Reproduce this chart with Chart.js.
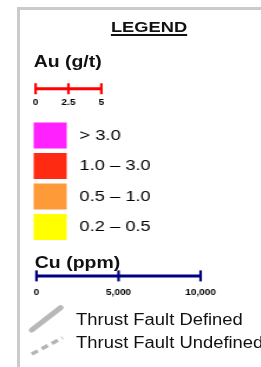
<!DOCTYPE html>
<html lang="en">
<head>
<meta charset="UTF-8">
<title>Legend</title>
<style>
  html, body { margin: 0; padding: 0; background: #fff; }
  body {
    width: 261px; height: 367px; overflow: hidden; position: relative;
    font-family: "Liberation Sans", Arial, sans-serif; color: #111;
  }
  .frame {
    position: absolute; left: 17px; top: 7px; right: -10px; bottom: -10px;
    border-left: 3px solid #cbcbcb; border-top: 3px solid #cbcbcb;
  }
  /* the original artwork is stretched sideways */
  .stage {
    position: absolute; left: 0; top: 0; width: 222px; height: 367px;
    transform: scaleX(1.18); transform-origin: 0 0;
  }
  .txt { position: absolute; white-space: nowrap; line-height: 1; }
  .stage canvas { position: absolute; }
  #title {
    left: 76.3px; top: 19.2px; width: 100px; text-align: center;
    font-size: 15.5px; font-weight: bold;
    text-decoration: underline; text-underline-offset: 2px; text-decoration-thickness: 2px;
  }
  #auTitle { left: 28.5px; top: 53px; font-size: 16.5px; font-weight: bold; }
  #cuTitle { left: 29.5px; top: 254.3px; font-size: 16.5px; font-weight: bold; }
  .fault { left: 64.5px; font-size: 15.6px; }
</style>
<script src="https://cdn.jsdelivr.net/npm/chart.js"></script>
</head>
<body>

<div class="frame"></div>
<div class="stage">
  <div class="txt" id="title">LEGEND</div>
  <div class="txt" id="auTitle">Au (g/t)</div>
  <canvas id="auScale" width="78" height="27" style="left:19.36px; top:81.7px"></canvas>
  <canvas id="grades" width="240" height="140" style="left:23.5px; top:117.5px"></canvas>
  <div class="txt" id="cuTitle">Cu (ppm)</div>
  <canvas id="cuScale" width="168" height="34" style="left:16.5px; top:265.6px"></canvas>
  <canvas id="faults" width="40" height="62" style="left:20px; top:300px"></canvas>
  <div class="txt fault" style="top:312px">Thrust Fault Defined</div>
  <div class="txt fault" style="top:335.3px">Thrust Fault Undefined</div>
</div>

<script>
// scale bars
const auTicks = [0, 2.5, 5];
const auTickLabels = ["0", "2.5", "5"];
const cuTicks = [0, 5000, 10000];
const cuTickLabels = ["0", "5,000", "10,000"];

// Au grade classes
const gradeLabels = ["> 3.0", "1.0 – 3.0", "0.5 – 1.0", "0.2 – 0.5"];
const gradeColors = ["#ff22ff", "#ff2a12", "#ff9a38", "#ffff00"];

// fault symbols (symbol box units, y up)
const faultDefinedPath = [{x: 6.9, y: 32}, {x: 31.4, y: 54.3}];
const faultUndefinedPath = [{x: 6.9, y: 8}, {x: 33.1, y: 24.3}];

Chart.defaults.font.family = "'Liberation Sans', Arial, sans-serif";
Chart.defaults.color = "#000";

function scaleBar(id, ticks, tickLabels, min, max, color) {
  new Chart(document.getElementById(id), {
    type: "scatter",
    data: {
      datasets: [{
        data: ticks.map(v => ({x: v, y: 0})),
        showLine: true,
        borderColor: color,
        borderWidth: 3,
        pointStyle: "line",
        pointRotation: 90,
        pointRadius: 5.5,
        pointBorderWidth: 2.2,
        pointBorderColor: color,
        clip: false
      }]
    },
    options: {
      responsive: false,
      animation: false,
      events: [],
      layout: { padding: 0, autoPadding: false },
      plugins: { legend: { display: false }, tooltip: { enabled: false } },
      scales: {
        x: {
          type: "linear", min: min, max: max,
          border: { display: false },
          grid: { display: false, drawTicks: false },
          afterBuildTicks: s => { s.ticks = ticks.map(v => ({value: v})); },
          ticks: {
            padding: 2, color: "#000", autoSkip: false, maxRotation: 0,
            font: { size: 8.5, weight: "bold" },
            callback: (v, i) => tickLabels[i]
          }
        },
        y: { display: false, min: -1, max: 1 }
      }
    }
  });
}

scaleBar("auScale", auTicks, auTickLabels, -1, 6, "#ff0000");
scaleBar("cuScale", cuTicks, cuTickLabels, -1000, 11000, "#000080");

new Chart(document.getElementById("grades"), {
  type: "bar",
  data: {
    labels: [],
    datasets: gradeLabels.map((t, i) => ({
      label: t, data: [], backgroundColor: gradeColors[i], borderWidth: 0
    }))
  },
  options: {
    responsive: false,
    animation: false,
    events: [],
    layout: { autoPadding: false },
    scales: { x: { display: false }, y: { display: false } },
    plugins: {
      tooltip: { enabled: false },
      legend: {
        position: "left",
        align: "start",
        labels: {
          boxWidth: 28, boxHeight: 26, padding: 4.5,
          color: "#111", font: { size: 15.5 },
          generateLabels: chart => chart.data.datasets.map((d, i) => ({
            text: "\u2009" + d.label,
            fillStyle: d.backgroundColor,
            strokeStyle: d.backgroundColor,
            lineWidth: 0,
            hidden: false,
            datasetIndex: i
          }))
        }
      }
    }
  }
});

new Chart(document.getElementById("faults"), {
  type: "scatter",
  data: {
    datasets: [
      { data: faultDefinedPath, showLine: true, borderColor: "#b8b8b8", borderWidth: 5,
        borderCapStyle: "round", pointRadius: 0, clip: false },
      { data: faultUndefinedPath, showLine: true, borderColor: "#b4b4b4", borderWidth: 3.4,
        borderDash: [6, 4], pointRadius: 0, clip: false }
    ]
  },
  options: {
    responsive: false,
    animation: false,
    events: [],
    layout: { padding: 0, autoPadding: false },
    plugins: { legend: { display: false }, tooltip: { enabled: false } },
    scales: {
      x: { display: false, min: 0, max: 40 },
      y: { display: false, min: 0, max: 62 }
    }
  }
});
</script>

</body>
</html>
